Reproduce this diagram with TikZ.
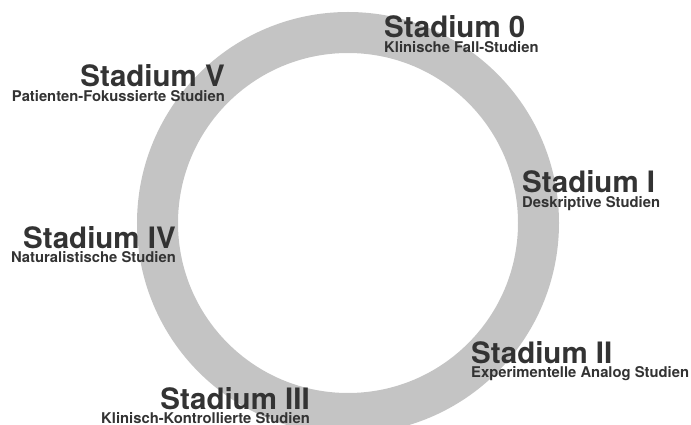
\documentclass[tikz,border=0pt]{standalone}
\usepackage{fontspec}
\setmainfont{TeX Gyre Heros}
\usetikzlibrary{positioning}
\definecolor{ringgray}{RGB}{196,196,196}
\definecolor{textgray}{RGB}{51,51,51}

\begin{document}
\begin{tikzpicture}[x=1pt, y=-1pt,
    stage node/.style={inner sep=0pt, text=textgray, font=\bfseries\fontsize{29.5}{30}\selectfont},
    sub node/.style={inner sep=0pt, text=textgray, font=\bfseries\fontsize{14.8}{15}\selectfont}]

          \useasboundingbox (0,0) rectangle (691,425);
          \draw[ringgray, line width=41pt] (348,223) circle[radius=190.5pt];

          \node[stage node, anchor=base west] (0) at (384,38) {Stadium 0};
          \node[sub node, below=14.5pt of 0.base west, anchor=base west] (0s) {Klinische Fall-Studien};

          \node[stage node, anchor=base west] (1) at (522,193) {Stadium I};
          \node[sub node, below=14.5pt of 1.base west, anchor=base west] (1s) {Deskriptive Studien};

          \node[stage node, anchor=base west] (2) at (471,363) {Stadium II};
          \node[sub node, below=14.5pt of 2.base west, anchor=base west] (2s) {Experimentelle Analog Studien};

          \node[stage node, anchor=base east] (3) at (310,409) {Stadium III};
          \node[sub node, below=14.5pt of 3.base east, anchor=base east] (3s) {Klinisch-Kontrollierte Studien};

          \node[stage node, anchor=base east] (4) at (176,248) {Stadium IV};
          \node[sub node, below=14.5pt of 4.base east, anchor=base east] (4s) {Naturalistische Studien};

          \node[stage node, anchor=base east] (5) at (225,87) {Stadium V};
          \node[sub node, below=14.5pt of 5.base east, anchor=base east] (5s) {Patienten-Fokussierte Studien};
        \end{tikzpicture}
\end{document}
